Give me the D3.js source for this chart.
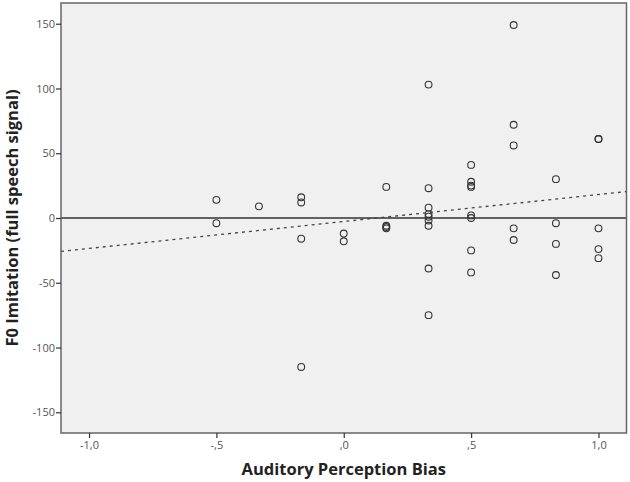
<!DOCTYPE html>
<html>
<head>
<meta charset="utf-8">
<script src="https://cdn.jsdelivr.net/npm/d3@7"></script>
<style>
  body { margin: 0; background: #fff; }
  text { font-family: "Open Sans", "DejaVu Sans", sans-serif; }
</style>
</head>
<body>
<div id="chart"></div>
<script>
// x values (Auditory Perception Bias) and y values (F0 Imitation)
var biasX = [
    -0.5, -0.5,
    -0.333,
    -0.167, -0.167, -0.167, -0.167,
    0, 0,
    0.167, 0.167, 0.167, 0.167,
    0.333, 0.333, 0.333, 0.333, 0.333, 0.333, 0.333, 0.333, 0.333,
    0.5, 0.5, 0.5, 0.5, 0.5, 0.5, 0.5, 0.5,
    0.667, 0.667, 0.667, 0.667, 0.667,
    0.833, 0.833, 0.833, 0.833,
    1.0, 1.0, 1.0, 1.0, 1.0
];
var imitY = [
    14, -4,
    9,
    16, 12, -16, -115,
    -12, -18,
    24, -6, -7, -8,
    103, 23, 8, 3, 1, -2, -6, -39, -75,
    41, 28, 25, 24, 2, 0, -25, -42,
    149, 72, 56, -8, -17,
    30, -4, -20, -44,
    61, 61, -8, -24, -31
];
// fit line (dotted), end points
var fitX = [-1.11, 1.11];
var fitY = [-25.8, 20.4];

var xTicks = [-1, -0.5, 0, 0.5, 1];
var xTickLabels = ["-1,0", "-,5", ",0", ",5", "1,0"];
var yTicks = [-150, -100, -50, 0, 50, 100, 150];

var width = 630, height = 482;
var margin = {left: 61, top: 3, right: 3.5, bottom: 49};

var svg = d3.select("#chart").append("svg")
    .attr("width", width)
    .attr("height", height);

var x = d3.scaleLinear().domain([-1.11, 1.11]).range([margin.left, width - margin.right]);
var y = d3.scaleLinear().domain([-166, 166]).range([height - margin.bottom, margin.top]);

// plot background
svg.append("rect")
    .attr("x", margin.left)
    .attr("y", margin.top)
    .attr("width", width - margin.right - margin.left)
    .attr("height", height - margin.bottom - margin.top)
    .style("fill", "#f0f0f0")
    .style("stroke", "none");

// zero reference line
svg.append("line")
    .attr("x1", x.range()[0]).attr("x2", x.range()[1])
    .attr("y1", y(0)).attr("y2", y(0))
    .style("stroke", "#333")
    .style("stroke-width", 1.3);

// fit line
svg.append("line")
    .attr("x1", x(fitX[0])).attr("y1", y(fitY[0]))
    .attr("x2", x(fitX[1])).attr("y2", y(fitY[1]))
    .style("stroke", "#444")
    .style("stroke-width", 1.3)
    .style("stroke-dasharray", "3,4");

// points
var pts = biasX.map(function (d, i) { return {x: d, y: imitY[i]}; });
svg.append("g").selectAll("circle")
    .data(pts)
    .enter().append("circle")
    .attr("cx", function (d) { return x(d.x); })
    .attr("cy", function (d) { return y(d.y); })
    .attr("r", 3.4)
    .style("fill", "none")
    .style("stroke", "#333")
    .style("stroke-width", 1.1);

// frame
svg.append("rect")
    .attr("x", margin.left)
    .attr("y", margin.top)
    .attr("width", width - margin.right - margin.left)
    .attr("height", height - margin.bottom - margin.top)
    .style("fill", "none")
    .style("stroke", "#666")
    .style("stroke-width", 1.5);

// axes
var xAxis = d3.axisBottom(x)
    .tickValues(xTicks)
    .tickFormat(function (d, i) { return xTickLabels[i]; })
    .tickSize(5)
    .tickSizeOuter(0);
var yAxis = d3.axisLeft(y)
    .tickValues(yTicks)
    .tickFormat(function (d) { return String(d); })
    .tickSize(5)
    .tickSizeOuter(0);

var gx = svg.append("g")
    .attr("transform", "translate(0," + (height - margin.bottom) + ")")
    .call(xAxis);
var gy = svg.append("g")
    .attr("transform", "translate(" + margin.left + ",0)")
    .call(yAxis);

[gx, gy].forEach(function (g) {
    g.select(".domain").remove();
    g.selectAll(".tick line").style("stroke", "#333").style("stroke-width", 1.2);
    g.selectAll(".tick text")
        .style("font-size", "11px")
        .style("fill", "#555")
        .style("font-family", "'Open Sans', 'DejaVu Sans', sans-serif");
});
gy.selectAll(".tick text").attr("x", -6);

// axis titles
svg.append("text")
    .attr("x", x(0))
    .attr("y", 475)
    .attr("text-anchor", "middle")
    .style("font-size", "16.5px")
    .style("font-weight", "bold")
    .style("fill", "#222")
    .text("Auditory Perception Bias");

svg.append("text")
    .attr("transform", "translate(18," + y(0) + ") rotate(-90)")
    .attr("text-anchor", "middle")
    .style("font-size", "16.5px")
    .style("font-weight", "bold")
    .style("fill", "#222")
    .text("F0 Imitation (full speech signal)");
</script>
</body>
</html>
